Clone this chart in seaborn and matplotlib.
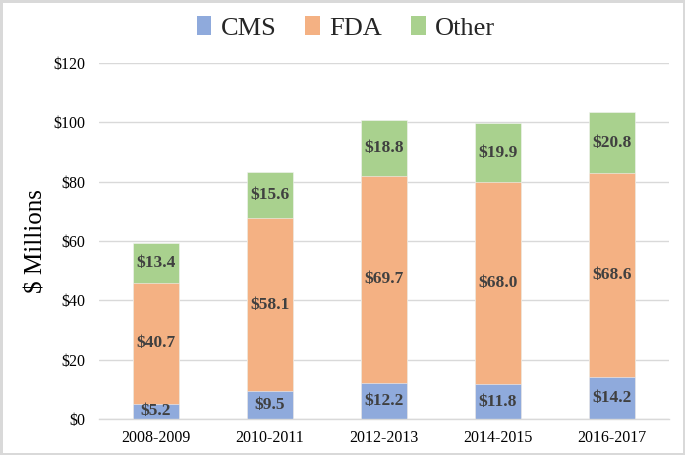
import numpy as np
import pandas as pd
import seaborn as sns
import matplotlib
import matplotlib.pyplot as plt
from matplotlib.patches import Patch

matplotlib.use("Agg")
sns.set_theme(style="white")
plt.rcParams["font.family"] = ["Liberation Serif", "DejaVu Serif"]

# Data (millions of dollars)
periods = ["2008-2009", "2010-2011", "2012-2013", "2014-2015", "2016-2017"]
cms = [5.2, 9.5, 12.2, 11.8, 14.2]
fda = [40.7, 58.1, 69.7, 68.0, 68.6]
other = [13.4, 15.6, 18.8, 19.9, 20.8]

series = ["CMS", "FDA", "Other"]
colors = {"CMS": "#8faadc", "FDA": "#f4b183", "Other": "#a9d18e"}

df = pd.DataFrame({"Period": periods, "CMS": cms, "FDA": fda, "Other": other})
df["cum_CMS"] = df["CMS"]
df["cum_FDA"] = df["CMS"] + df["FDA"]
df["cum_Other"] = df["cum_FDA"] + df["Other"]

fig = plt.figure(figsize=(6.85, 4.55), dpi=100)
ax = fig.add_axes([0.1445, 0.0791, 0.832, 0.7824])

# Stacked bars: draw cumulative totals from the top series down
for s in reversed(series):
    sns.barplot(data=df, x="Period", y=f"cum_{s}", color=colors[s],
                width=0.4, saturation=1, linewidth=0.4, edgecolor="#f4f4f4",
                ax=ax, zorder=2)

# Segment labels
for s in series:
    bottoms = df[f"cum_{s}"] - df[s]
    for i, (b, v) in enumerate(zip(bottoms, df[s])):
        ax.text(i, b + v / 2, f"${v:.1f}", ha="center", va="center",
                fontsize=12.5, fontweight="bold", color="#404040", zorder=3)

ax.set_ylim(0, 120)
ax.set_yticks(np.arange(0, 121, 20))
ax.set_yticklabels([f"${t}" for t in range(0, 121, 20)])
ax.set_xlim(-0.5, len(periods) - 0.5)
ax.set_xlabel("")
ax.set_ylabel("$ Millions", fontsize=18, color="black", labelpad=4)
ax.yaxis.grid(True, color="#d9d9d9", linewidth=1)
ax.set_axisbelow(True)
ax.tick_params(axis="both", length=0, labelsize=11.5, colors="black")
ax.tick_params(axis="y", pad=10)
ax.tick_params(axis="x", pad=8)
for side in ["left", "right", "top"]:
    ax.spines[side].set_visible(False)
ax.spines["bottom"].set_color("#d9d9d9")
ax.spines["bottom"].set_linewidth(1)

handles = [Patch(facecolor=colors[s], edgecolor="none", label=s) for s in series]
fig.legend(handles=handles, loc="center", bbox_to_anchor=(0.505, 0.938), ncol=3,
           frameon=False, fontsize=19, handlelength=0.55, handleheight=0.7,
           handletextpad=0.35, columnspacing=1.1)

fig.patch.set_edgecolor("#d9d9d9")
fig.patch.set_linewidth(2.5)
fig.savefig("out.png", dpi=100, edgecolor=fig.get_edgecolor())
